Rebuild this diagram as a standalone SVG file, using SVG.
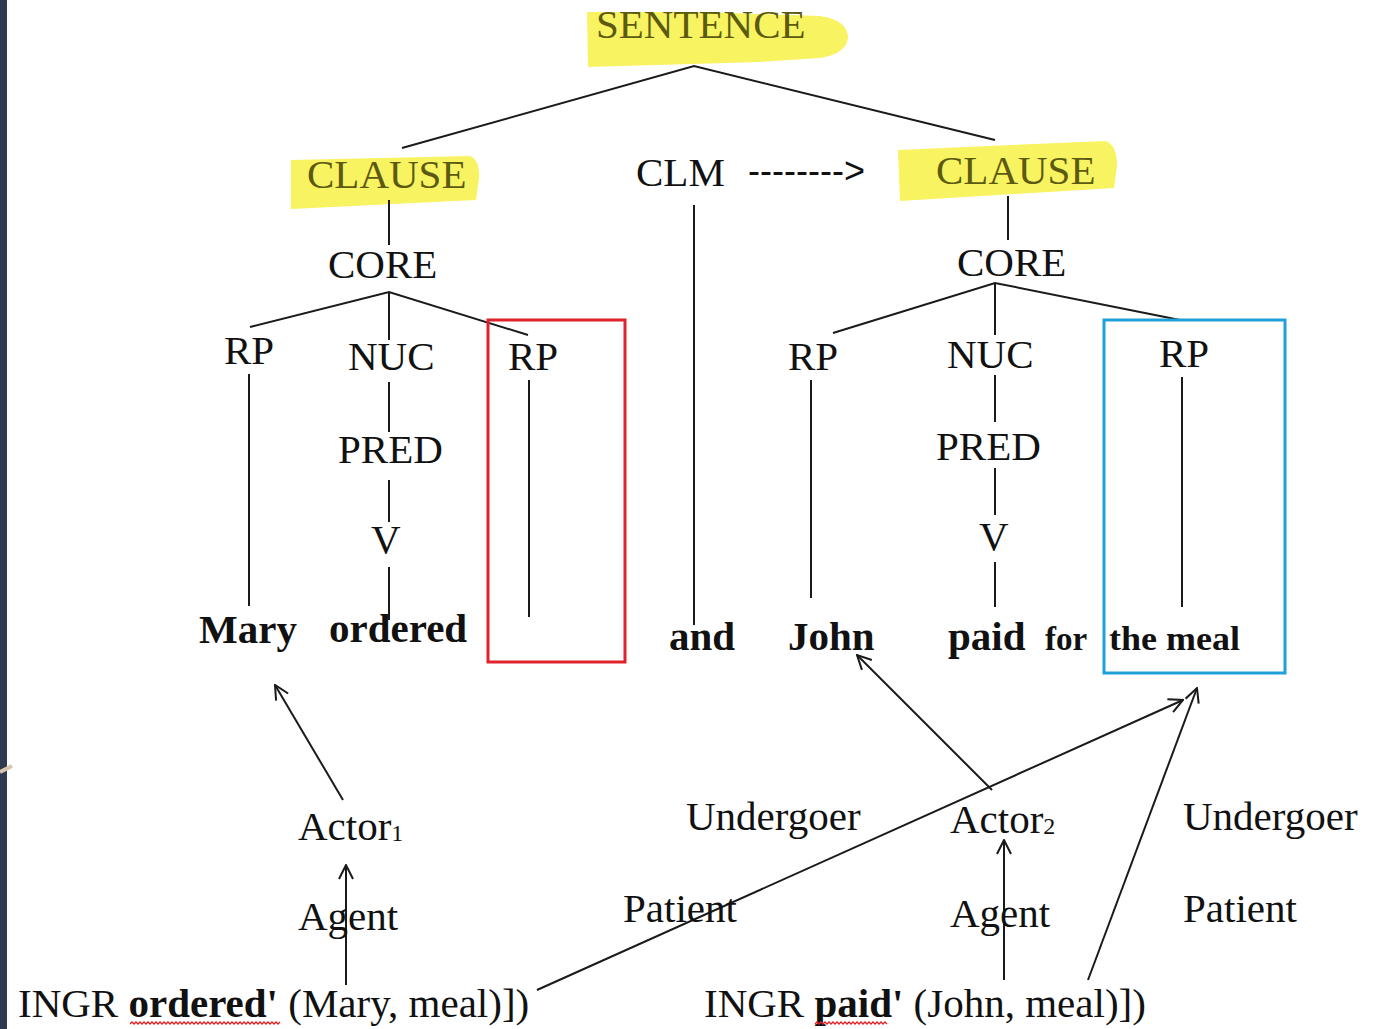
<svg xmlns="http://www.w3.org/2000/svg" width="1385" height="1029" viewBox="0 0 1385 1029">
  <defs>
    <style>
      .t { font-family: "Liberation Serif", "Times New Roman", serif; font-size: 41px; fill: #111; }
      .b { font-weight: bold; }
      .sm { font-size: 33px; }
      .hl { fill: #5c5a10; }
      .mark { fill: #f8f360; }
      .ln { stroke: #1a1a1a; stroke-width: 2; fill: none; }
      .arr { stroke: #1a1a1a; stroke-width: 2; fill: none; marker-end: url(#open); }
      .wave { stroke: #e02020; stroke-width: 1.3; fill: none; }
      .sub { font-size: 24px; }
    </style>
    <marker id="open" viewBox="0 0 16 16" refX="15" refY="8" markerWidth="16" markerHeight="16" markerUnits="userSpaceOnUse" orient="auto">
      <path d="M1,1 L15,8 L1,15" fill="none" stroke="#1a1a1a" stroke-width="2"/>
    </marker>
  </defs>

  <rect width="1385" height="1029" fill="#ffffff"/>
  <rect x="0" y="0" width="7" height="1029" fill="#2f3a4f"/>
  <path d="M0,772 L12,766" stroke="#d8c6ae" stroke-width="4"/>

  <!-- highlighter marks behind the clause labels -->
  <g id="highlights">
    <path class="mark" d="M587,12 L700,12 L820,16 Q848,20 848,38 Q846,54 820,58 L760,62 L588,67 Z"/>
    <path class="mark" d="M291,160 L470,156 Q480,160 479,178 L476,200 L291,209 Z"/>
    <path class="mark" d="M898,150 L1105,141 Q1117,144 1117,166 L1114,188 L900,201 Z"/>
  </g>

  <!-- tree edges and role-linking arrows -->
  <g id="connectors">
    <path class="ln" d="M402,148 L694,66 L995,140"/>
    <line class="ln" x1="389" y1="200" x2="389" y2="245"/>
    <path class="ln" d="M250,327 L389,292 L528,335"/>
    <line class="ln" x1="389" y1="292" x2="389" y2="340"/>
    <line class="ln" x1="389" y1="382" x2="389" y2="432"/>
    <line class="ln" x1="389" y1="480" x2="389" y2="522"/>
    <line class="ln" x1="389" y1="567" x2="389" y2="620"/>
    <line class="ln" x1="249" y1="374" x2="249" y2="606"/>
    <line class="ln" x1="529" y1="380" x2="529" y2="617"/>
    <line class="ln" x1="694" y1="205" x2="694" y2="625"/>
    <line class="ln" x1="1008" y1="196" x2="1008" y2="240"/>
    <path class="ln" d="M833,333 L995,283 L1180,320"/>
    <line class="ln" x1="995" y1="283" x2="995" y2="335"/>
    <line class="ln" x1="995" y1="375" x2="995" y2="422"/>
    <line class="ln" x1="995" y1="468" x2="995" y2="515"/>
    <line class="ln" x1="995" y1="562" x2="995" y2="607"/>
    <line class="ln" x1="811" y1="380" x2="811" y2="598"/>
    <line class="ln" x1="1182" y1="377" x2="1182" y2="607"/>

    <line class="arr" x1="343" y1="800" x2="275" y2="685"/>
    <line class="arr" x1="346" y1="985" x2="346" y2="865"/>
    <line class="arr" x1="537" y1="990" x2="1183" y2="700"/>
    <line class="arr" x1="992" y1="790" x2="857" y2="655"/>
    <line class="arr" x1="1004" y1="980" x2="1004" y2="840"/>
    <line class="arr" x1="1088" y1="980" x2="1197" y2="688"/>
  </g>

  <!-- boxes around the shared RP -->
  <g id="box-left-rp">
    <rect x="488" y="320" width="137" height="342" fill="none" stroke="#e0222c" stroke-width="3"/>
  </g>
  <g id="box-right-rp">
    <rect x="1104" y="320" width="181" height="353" fill="none" stroke="#1ea0d8" stroke-width="3"/>
  </g>

  <g id="sentence"><text class="t hl" x="596" y="38">SENTENCE</text></g>
  <g id="clause-left"><text class="t hl" x="307" y="188">CLAUSE</text></g>
  <g id="clm">
    <text class="t" x="636" y="186">CLM</text>
    <text x="748" y="183" font-family="Liberation Sans, Arial, sans-serif" font-size="36" fill="#111">--------&gt;</text>
  </g>
  <g id="clause-right"><text class="t hl" x="936" y="184">CLAUSE</text></g>

  <g id="core-left"><text class="t" x="328" y="278">CORE</text></g>
  <g id="rp-left-1"><text class="t" x="224" y="364">RP</text></g>
  <g id="nuc-left"><text class="t" x="348" y="370">NUC</text></g>
  <g id="rp-left-2"><text class="t" x="508" y="370">RP</text></g>
  <g id="pred-left"><text class="t" x="338" y="463">PRED</text></g>
  <g id="v-left"><text class="t" x="371" y="553">V</text></g>
  <g id="mary"><text class="t b" x="199" y="643">Mary</text></g>
  <g id="ordered"><text class="t b" x="329" y="642">ordered</text></g>
  <g id="and"><text class="t b" x="669" y="650">and</text></g>

  <g id="core-right"><text class="t" x="957" y="276">CORE</text></g>
  <g id="rp-right-1"><text class="t" x="788" y="370">RP</text></g>
  <g id="nuc-right"><text class="t" x="947" y="368">NUC</text></g>
  <g id="rp-right-2"><text class="t" x="1159" y="367">RP</text></g>
  <g id="pred-right"><text class="t" x="936" y="460">PRED</text></g>
  <g id="v-right"><text class="t" x="979" y="550">V</text></g>
  <g id="john"><text class="t b" x="788" y="650">John</text></g>
  <g id="paid"><text class="t b" x="948" y="650">paid</text></g>
  <g id="for"><text class="t b sm" x="1045" y="650">for</text></g>
  <g id="the-meal"><text class="t b sm" x="1109" y="650" textLength="131" lengthAdjust="spacingAndGlyphs">the meal</text></g>

  <g id="actor1"><text class="t" x="298" y="840">Actor<tspan class="sub" dy="1">1</tspan></text></g>
  <g id="agent1"><text class="t" x="298" y="930">Agent</text></g>
  <g id="undergoer1"><text class="t" x="686" y="830">Undergoer</text></g>
  <g id="patient1"><text class="t" x="623" y="922">Patient</text></g>
  <g id="actor2"><text class="t" x="950" y="833">Actor<tspan class="sub" dy="1">2</tspan></text></g>
  <g id="agent2"><text class="t" x="950" y="927">Agent</text></g>
  <g id="undergoer2"><text class="t" x="1183" y="830">Undergoer</text></g>
  <g id="patient2"><text class="t" x="1183" y="922">Patient</text></g>

  <g id="logical-structure-1">
    <text class="t" x="18" y="1017">INGR <tspan class="b">ordered'</tspan> (Mary, meal)])</text>
    <path class="wave" d="M130,1024 l2,-2 l2,2 l2,-2 l2,2 l2,-2 l2,2 l2,-2 l2,2 l2,-2 l2,2 l2,-2 l2,2 l2,-2 l2,2 l2,-2 l2,2 l2,-2 l2,2 l2,-2 l2,2 l2,-2 l2,2 l2,-2 l2,2 l2,-2 l2,2 l2,-2 l2,2 l2,-2 l2,2 l2,-2 l2,2 l2,-2 l2,2 l2,-2 l2,2 l2,-2 l2,2 l2,-2 l2,2 l2,-2 l2,2 l2,-2 l2,2 l2,-2 l2,2 l2,-2 l2,2 l2,-2 l2,2 l2,-2 l2,2 l2,-2 l2,2 l2,-2 l2,2 l2,-2 l2,2 l2,-2 l2,2 l2,-2 l2,2 l2,-2 l2,2 l2,-2 l2,2 l2,-2 l2,2 l2,-2 l2,2 l2,-2 l2,2 l2,-2 l2,2 l2,-2"/>
  </g>
  <g id="logical-structure-2">
    <text class="t" x="704" y="1017">INGR <tspan class="b">paid'</tspan> (John, meal)])</text>
    <path class="wave" d="M815,1024 l2,-2 l2,2 l2,-2 l2,2 l2,-2 l2,2 l2,-2 l2,2 l2,-2 l2,2 l2,-2 l2,2 l2,-2 l2,2 l2,-2 l2,2 l2,-2 l2,2 l2,-2 l2,2 l2,-2 l2,2 l2,-2 l2,2 l2,-2 l2,2 l2,-2 l2,2 l2,-2 l2,2 l2,-2 l2,2 l2,-2 l2,2 l2,-2 l2,2"/>
  </g>
</svg>
